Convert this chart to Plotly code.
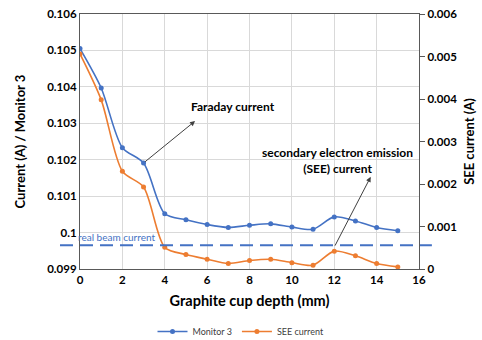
import plotly.graph_objects as go

depth = [0, 1, 2, 3, 4, 5, 6, 7, 8, 9, 10, 11, 12, 13, 14, 15]
monitor3 = [0.10505, 0.10397, 0.10233, 0.10191, 0.10052, 0.10035, 0.10022, 0.10014,
            0.10020, 0.10024, 0.10015, 0.10009, 0.10043, 0.10032, 0.10014, 0.10005]
see_current = [0.00506, 0.00398, 0.00230, 0.00193, 0.00051, 0.00034, 0.00023, 0.00013,
               0.00020, 0.00023, 0.00015, 0.00009, 0.00042, 0.00031, 0.00013, 0.00005]
real_beam = 0.09965

left_ticks = [0.099, 0.100, 0.101, 0.102, 0.103, 0.104, 0.105, 0.106]
left_labels = ["0.099", "0.1", "0.101", "0.102", "0.103", "0.104", "0.105", "0.106"]
right_ticks = [0, 0.001, 0.002, 0.003, 0.004, 0.005, 0.006]
right_labels = ["0", "0.001", "0.002", "0.003", "0.004", "0.005", "0.006"]
x_ticks = [0, 2, 4, 6, 8, 10, 12, 14, 16]

BLUE = "#4472C4"
ORANGE = "#ED7D31"
FONT = "Lato"
AX = "#595959"

fig = go.Figure()
fig.add_trace(go.Scatter(x=depth, y=monitor3, name="Monitor 3", mode="lines+markers",
                         line=dict(color=BLUE, width=1.6, shape="spline", smoothing=0.8),
                         marker=dict(size=5, color=BLUE)))
fig.add_trace(go.Scatter(x=depth, y=see_current, name="SEE current", mode="lines+markers",
                         yaxis="y2",
                         line=dict(color=ORANGE, width=1.6, shape="spline", smoothing=0.8),
                         marker=dict(size=5, color=ORANGE)))

fig.add_shape(type="line", xref="paper", yref="y", x0=-0.059, x1=1.038,
              y0=real_beam, y1=real_beam, line=dict(color=BLUE, width=2, dash="13px,7px"))

ann = []
ann.append(dict(x=-0.012, xref="paper", y=0.09987, yref="y", text="real beam current",
                showarrow=False, xanchor="left", yanchor="middle",
                font=dict(family=FONT, size=10, color=BLUE)))
ann.append(dict(x=7.22, y=0.10345, xref="x", yref="y", text="<b>Faraday current</b>",
                showarrow=False, font=dict(family=FONT, size=12, color="#000")))
ann.append(dict(x=12.13, y=0.10199, xref="x", yref="y",
                text="<b>secondary electron emission<br>(SEE) current</b>",
                showarrow=False, font=dict(family=FONT, size=12, color="#000")))
ann.append(dict(x=5.43, y=0.10306, xref="x", yref="y", ax=depth[3], ay=monitor3[3],
                axref="x", ayref="y", text="", showarrow=True, arrowhead=2, arrowsize=1,
                arrowwidth=1, arrowcolor="#404040", standoff=0, startstandoff=0))
ann.append(dict(x=13.72, y=0.10153, xref="x", yref="y", ax=depth[12], ay=0.0996,
                axref="x", ayref="y", text="", showarrow=True, arrowhead=2, arrowsize=1,
                arrowwidth=1, arrowcolor="#404040", standoff=0, startstandoff=0))

fig.update_layout(
    width=482, height=340,
    margin=dict(l=80, r=63, t=14, b=71, autoexpand=False),
    paper_bgcolor="white", plot_bgcolor="white",
    font=dict(family=FONT, color="#000"),
    annotations=ann,
    showlegend=True,
    legend=dict(orientation="h", x=0.5, xanchor="center", xref="container",
                y=0.025, yanchor="middle", yref="container",
                font=dict(family=FONT, size=9, color="#404040"),
                bgcolor="rgba(0,0,0,0)"),
    xaxis=dict(range=[0, 16], tickvals=x_ticks, showgrid=True, gridcolor="#d9d9d9",
               showline=True, linecolor=AX, linewidth=1.2, mirror=True, zeroline=False,
               ticks="", automargin=False,
               tickfont=dict(family=FONT, size=11.5, color="#000", weight="bold"),
               title=dict(text="<b>Graphite cup depth (mm)</b>", standoff=10,
                          font=dict(family=FONT, size=14.5, color="#000"))),
    yaxis=dict(range=[0.099, 0.106], tickvals=left_ticks, ticktext=left_labels,
               showgrid=True, gridcolor="#d9d9d9", showline=True, linecolor=AX, linewidth=1.2,
               zeroline=False, ticks="", automargin=False,
               tickfont=dict(family=FONT, size=11.5, color="#000", weight="bold"),
               title=dict(text="<b>Current (A) / Monitor 3</b>", standoff=18,
                          font=dict(family=FONT, size=13, color="#000"))),
    yaxis2=dict(range=[0, 0.006], tickvals=right_ticks, ticktext=right_labels,
                overlaying="y", side="right", showgrid=False, showline=True, linecolor=AX,
                linewidth=1.2, zeroline=False, ticks="outside", ticklen=5, tickcolor=AX,
                automargin=False,
                tickfont=dict(family=FONT, size=11.5, color="#000", weight="bold"),
                title=dict(text="<b>SEE current (A)</b>", standoff=8,
                           font=dict(family=FONT, size=13, color="#000"))),
)

fig.write_html("out.html", config={"displayModeBar": False},
               post_script="document.body.style.margin='0px';")
